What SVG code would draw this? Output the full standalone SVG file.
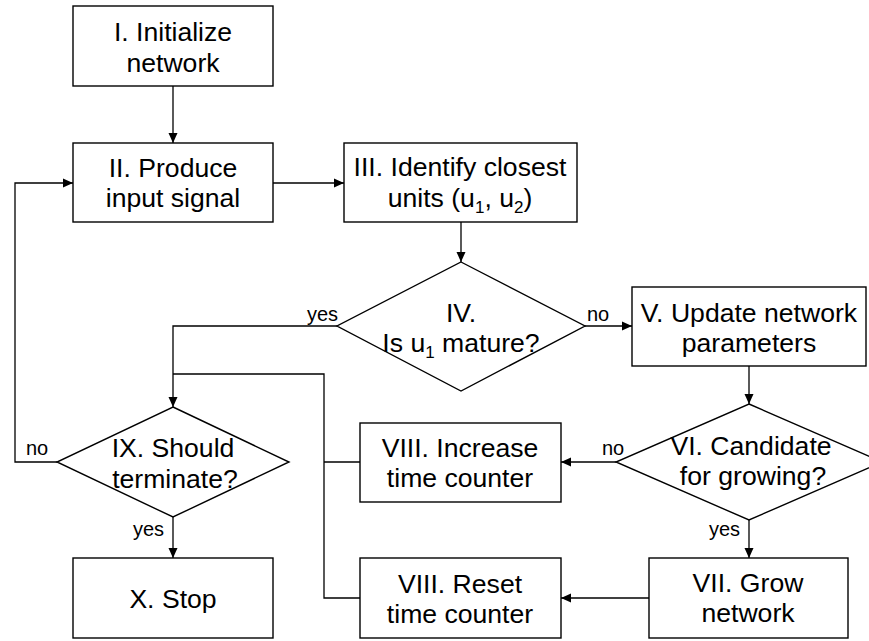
<svg xmlns="http://www.w3.org/2000/svg" width="869" height="641" viewBox="0 0 869 641">
<defs>
<style>
.box{fill:#fff;stroke:#000;stroke-width:1.4}
.t{font-family:"Liberation Sans",Arial,sans-serif;font-size:26.6px;fill:#000;text-anchor:middle}
.lbl{font-family:"Liberation Sans",Arial,sans-serif;font-size:20px;fill:#000}
.c{fill:none;stroke:#000;stroke-width:1.3}
</style>
<marker id="ah" markerWidth="10" markerHeight="10" refX="10" refY="5" orient="auto" markerUnits="userSpaceOnUse">
<path d="M0,0.5 L10,5 L0,9.5 z" fill="#000"/>
</marker>
</defs>
<rect width="869" height="641" fill="#fff"/>
<g id="connectors">
<path class="c" d="M173,86 V143" marker-end="url(#ah)"/>
<path class="c" d="M273,183 H344" marker-end="url(#ah)"/>
<path class="c" d="M461,222 V262" marker-end="url(#ah)"/>
<path class="c" d="M585,326 H632" marker-end="url(#ah)"/>
<path class="c" d="M749,366 V404" marker-end="url(#ah)"/>
<path class="c" d="M616,462 H561" marker-end="url(#ah)"/>
<path class="c" d="M749,520 V558" marker-end="url(#ah)"/>
<path class="c" d="M649,598 H561" marker-end="url(#ah)"/>
<path class="c" d="M337,326 H173 V407" marker-end="url(#ah)"/>
<path class="c" d="M360,462 H324"/>
<path class="c" d="M360,598 H324 V374 H173"/>
<path class="c" d="M57,462 H15 V183 H73" marker-end="url(#ah)"/>
<path class="c" d="M173,517 V558" marker-end="url(#ah)"/>
<text class="lbl" x="307" y="321">yes</text>
<text class="lbl" x="587" y="321">no</text>
<text class="lbl" x="602" y="455">no</text>
<text class="lbl" x="26" y="455">no</text>
<text class="lbl" x="133" y="536">yes</text>
<text class="lbl" x="709" y="536">yes</text>
</g>
<g id="n1">
<rect class="box" x="73" y="6" width="200" height="80"/>
<text class="t" x="173" y="41">I. Initialize</text>
<text class="t" x="173" y="72">network</text>
</g>
<g id="n2">
<rect class="box" x="73" y="143" width="200" height="79"/>
<text class="t" x="173" y="177">II. Produce</text>
<text class="t" x="173" y="207">input signal</text>
</g>
<g id="n3">
<rect class="box" x="344" y="143" width="233" height="79"/>
<text class="t" x="460" y="176">III. Identify closest</text>
<text class="t" x="460" y="207">units (u<tspan dy="6" font-size="17">1</tspan><tspan dy="-6">, u</tspan><tspan dy="6" font-size="17">2</tspan><tspan dy="-6">)</tspan></text>
</g>
<g id="n4">
<polygon class="box" points="461,262 585,326 461,391 337,326"/>
<text class="t" x="461" y="322">IV.</text>
<text class="t" x="461" y="352">Is u<tspan dy="6" font-size="17">1</tspan><tspan dy="-6"> mature?</tspan></text>
</g>
<g id="n5">
<rect class="box" x="632" y="287" width="234" height="79"/>
<text class="t" x="749" y="322">V. Update network</text>
<text class="t" x="749" y="352">parameters</text>
</g>
<g id="n6">
<polygon class="box" points="749,404 882,462 749,520 616,462"/>
<text class="t" x="751" y="455">VI. Candidate</text>
<text class="t" x="753" y="485">for growing?</text>
</g>
<g id="n7">
<rect class="box" x="649" y="558" width="199" height="80"/>
<text class="t" x="748" y="592">VII. Grow</text>
<text class="t" x="748" y="622">network</text>
</g>
<g id="n8a">
<rect class="box" x="360" y="423" width="201" height="79"/>
<text class="t" x="460" y="457">VIII. Increase</text>
<text class="t" x="460" y="487">time counter</text>
</g>
<g id="n8b">
<rect class="box" x="360" y="558" width="201" height="80"/>
<text class="t" x="460" y="593">VIII. Reset</text>
<text class="t" x="460" y="623">time counter</text>
</g>
<g id="n9">
<polygon class="box" points="173,407 289,462 173,517 57,462"/>
<text class="t" x="173" y="457">IX. Should</text>
<text class="t" x="175" y="488">terminate?</text>
</g>
<g id="n10">
<rect class="box" x="73" y="558" width="200" height="80"/>
<text class="t" x="173" y="608">X. Stop</text>
</g>
</svg>
